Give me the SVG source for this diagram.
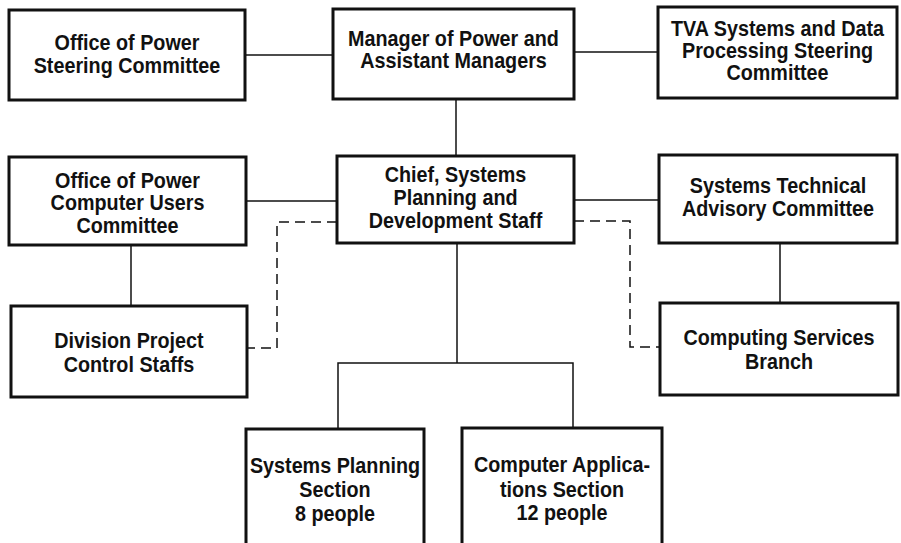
<svg xmlns="http://www.w3.org/2000/svg" width="901" height="543" viewBox="0 0 901 543">
<style>
.box{fill:#fff;stroke:#111;stroke-width:3}
.t{font-family:"Liberation Sans",Arial,sans-serif;font-weight:bold;font-size:21.5px;fill:#111;text-anchor:middle}
.c{fill:none;stroke:#111;stroke-width:1.5}
.d{fill:none;stroke:#111;stroke-width:1.5;stroke-dasharray:10 6}
</style>
<rect width="901" height="543" fill="#fff"/>
<g id="connectors">
<path class="c" d="M245 55H333"/>
<path class="c" d="M574 52H658"/>
<path class="c" d="M456 99V156"/>
<path class="c" d="M246 201H337"/>
<path class="c" d="M574 200H659"/>
<path class="c" d="M131 245V306"/>
<path class="c" d="M780 243V303"/>
<path class="c" d="M457 243V363"/>
<path class="c" d="M338 429V363H573V428"/>
<path class="d" d="M337 222H277V348H247"/>
<path class="d" d="M574 221H630V347H660"/>
</g>
<g id="office-steering">
<rect class="box" x="9" y="10" width="236" height="90"/>
<g transform="translate(127 0) scale(0.92 1)">
<text class="t" x="0" y="50">Office of Power</text>
<text class="t" x="0" y="73">Steering Committee</text>
</g>
</g>
<g id="manager">
<rect class="box" x="333" y="9" width="241" height="90"/>
<g transform="translate(453.5 0) scale(0.92 1)">
<text class="t" x="0" y="46">Manager of Power and</text>
<text class="t" x="0" y="68.5">Assistant Managers</text>
</g>
</g>
<g id="tva-steering">
<rect class="box" x="658" y="7" width="239" height="91"/>
<g transform="translate(777.5 0) scale(0.92 1)">
<text class="t" x="0" y="36">TVA Systems and Data</text>
<text class="t" x="0" y="58">Processing Steering</text>
<text class="t" x="0" y="80">Committee</text>
</g>
</g>
<g id="computer-users">
<rect class="box" x="9" y="157" width="237" height="88"/>
<g transform="translate(127.5 0) scale(0.92 1)">
<text class="t" x="0" y="188">Office of Power</text>
<text class="t" x="0" y="210.5">Computer Users</text>
<text class="t" x="0" y="233">Committee</text>
</g>
</g>
<g id="chief">
<rect class="box" x="337" y="156" width="237" height="87"/>
<g transform="translate(455.5 0) scale(0.92 1)">
<text class="t" x="0" y="182">Chief, Systems</text>
<text class="t" x="0" y="205">Planning and</text>
<text class="t" x="0" y="228">Development Staff</text>
</g>
</g>
<g id="technical-advisory">
<rect class="box" x="659" y="155" width="238" height="88"/>
<g transform="translate(778 0) scale(0.92 1)">
<text class="t" x="0" y="193">Systems Technical</text>
<text class="t" x="0" y="216">Advisory Committee</text>
</g>
</g>
<g id="division-project">
<rect class="box" x="11" y="306" width="236" height="91"/>
<g transform="translate(129 0) scale(0.92 1)">
<text class="t" x="0" y="348">Division Project</text>
<text class="t" x="0" y="372">Control Staffs</text>
</g>
</g>
<g id="computing-services">
<rect class="box" x="660" y="303" width="238" height="92"/>
<g transform="translate(779 0) scale(0.92 1)">
<text class="t" x="0" y="345">Computing Services</text>
<text class="t" x="0" y="369">Branch</text>
</g>
</g>
<g id="systems-planning">
<rect class="box" x="246" y="429" width="178" height="130"/>
<g transform="translate(335 0) scale(0.92 1)">
<text class="t" x="0" y="473">Systems Planning</text>
<text class="t" x="0" y="497">Section</text>
<text class="t" x="0" y="521">8 people</text>
</g>
</g>
<g id="computer-applications">
<rect class="box" x="462" y="428" width="200" height="130"/>
<g transform="translate(562 0) scale(0.92 1)">
<text class="t" x="0" y="472">Computer Applica-</text>
<text class="t" x="0" y="497">tions Section</text>
<text class="t" x="0" y="520">12 people</text>
</g>
</g>
</svg>
